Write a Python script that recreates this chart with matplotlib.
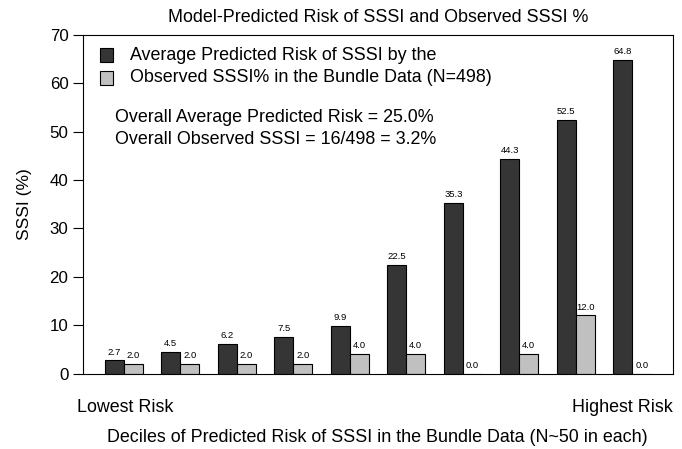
import matplotlib
matplotlib.use("Agg")
import matplotlib.pyplot as plt
import numpy as np
from matplotlib.patches import Rectangle

plt.rcParams['font.family'] = ['Liberation Sans', 'DejaVu Sans']

deciles = list(range(1, 11))
predicted = [2.7, 4.5, 6.2, 7.5, 9.9, 22.5, 35.3, 44.3, 52.5, 64.8]
observed = [2.0, 2.0, 2.0, 2.0, 4.0, 4.0, 0.0, 4.0, 12.0, 0.0]
yticks = [0, 10, 20, 30, 40, 50, 60, 70]
legend_labels = ["Average Predicted Risk of SSSI by the",
                 "Observed SSSI% in the Bundle Data (N=498)"]

dark = '#353535'
light = '#c0c0c0'
FS = 12.9
W, H = 682, 449

fig = plt.figure(figsize=(6.82, 4.49), dpi=100)
ax = fig.add_axes([83/W, 1 - 373.5/H, 590/W, (373.5 - 35)/H])

idx = np.arange(len(deciles))
xd = 3 * idx + 1.5
xl = 3 * idx + 2.5
ax.bar(xd, predicted, width=1.0, color=dark, edgecolor='black', linewidth=0.8)
ax.bar(xl, observed, width=1.0, color=light, edgecolor='black', linewidth=0.8)

for x, v in zip(xd, predicted):
    ax.text(x, v + 0.8, f"{v:.1f}", ha='center', va='bottom', fontsize=6.8)
for x, v in zip(xl, observed):
    ax.text(x, v + 0.8, f"{v:.1f}", ha='center', va='bottom', fontsize=6.8)

ax.set_xlim(1 - 1.16, 31 + 0.16)
ax.set_ylim(0, 70)
ax.set_yticks(yticks)
ax.set_yticklabels([str(t) for t in yticks], fontsize=12.2)
ax.set_xticks([])
ax.tick_params(axis='y', direction='out', length=7.5, width=0.8, pad=3)
for s in ax.spines.values():
    s.set_linewidth(0.8)

fig.text(24/W, 1 - 204/H, "SSSI (%)", fontsize=12.5, rotation=90,
         va='center', ha='center')
fig.text(378/W, 1 - 17/H, "Model-Predicted Risk of SSSI and Observed SSSI %",
         fontsize=FS, va='center', ha='center')

# legend
for ypix, col, lab in zip([55, 78], [dark, light], legend_labels):
    fig.patches.append(Rectangle(((100)/W, 1 - (ypix + 6.5)/H), 13/W, 13/H,
                                 transform=fig.transFigure, facecolor=col,
                                 edgecolor='black', linewidth=0.8))
    fig.text(130/W, 1 - ypix/H, lab, fontsize=FS, va='center', ha='left')

fig.text(115/W, 1 - 118/H, "Overall Average Predicted Risk = 25.0%",
         fontsize=FS, va='center', ha='left')
fig.text(115/W, 1 - 140/H, "Overall Observed SSSI = 16/498 = 3.2%",
         fontsize=FS, va='center', ha='left')

fig.text(77/W, 1 - 408/H, "Lowest Risk", fontsize=FS, va='center', ha='left')
fig.text(673/W, 1 - 408/H, "Highest Risk", fontsize=FS, va='center', ha='right')
fig.text(377/W, 1 - 438/H,
         "Deciles of Predicted Risk of SSSI in the Bundle Data (N~50 in each)",
         fontsize=FS, va='center', ha='center')

fig.savefig("out.png", dpi=100)
